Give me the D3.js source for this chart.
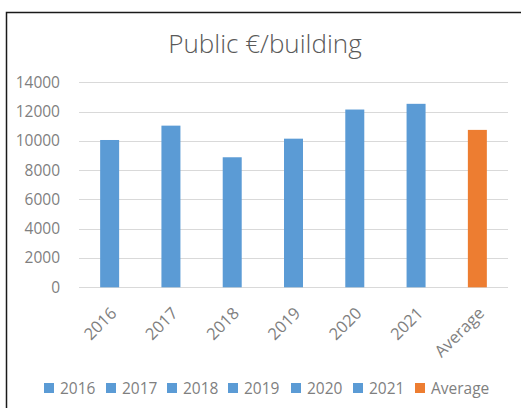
<!DOCTYPE html>
<html>
<head>
<meta charset="utf-8">
<script src="https://cdn.jsdelivr.net/npm/d3@7"></script>
<style>
  body { margin: 0; background: #fff; }
  text { font-family: "Open Sans", "Noto Sans", sans-serif; }
</style>
</head>
<body>
<div id="vis"></div>
<script>
const width = 521;
const height = 408;

const categories = ["2016", "2017", "2018", "2019", "2020", "2021", "Average"];
const values = [10060, 11040, 8880, 10150, 12140, 12530, 10750];
const yTicks = [0, 2000, 4000, 6000, 8000, 10000, 12000, 14000];
const barColors = ["#5B9BD5", "#5B9BD5", "#5B9BD5", "#5B9BD5", "#5B9BD5", "#5B9BD5", "#ED7D31"];

const svg = d3.select("#vis")
  .append("svg")
  .attr("width", width)
  .attr("height", height);

// chart frame, only top and left edges fall inside the picture
svg.append("rect")
  .attr("x", 6.5)
  .attr("y", 12.5)
  .attr("width", width + 10)
  .attr("height", height + 10)
  .attr("fill", "#fff")
  .attr("stroke", "#1a1a1a")
  .attr("stroke-width", 1.5);

svg.append("text")
  .attr("x", 265)
  .attr("y", 53)
  .attr("text-anchor", "middle")
  .attr("font-size", 26)
  .attr("font-weight", 300)
  .attr("fill", "#595959")
  .text("Public €/building");

const x = d3.scaleBand()
  .domain(categories)
  .range([79, 508])
  .paddingInner(0.69)
  .paddingOuter(0.345);

const y = d3.scaleLinear()
  .domain([0, 14000])
  .range([287.3, 82.3]);

// gridlines
svg.append("g")
  .selectAll("line")
  .data(yTicks)
  .join("line")
  .attr("x1", 79)
  .attr("x2", 508)
  .attr("y1", d => Math.round(y(d)) + 0.5)
  .attr("y2", d => Math.round(y(d)) + 0.5)
  .attr("stroke", "#d9d9d9")
  .attr("stroke-width", 1);

// y axis labels
const yAxis = svg.append("g")
  .attr("transform", "translate(60,0)")
  .call(d3.axisLeft(y).tickValues(yTicks).tickSize(0).tickPadding(0).tickFormat(d3.format("d")));
yAxis.select(".domain").remove();
yAxis.selectAll("text")
  .attr("font-size", 15.5)
  .attr("fill", "#7f7f7f")
  .attr("font-family", "\"Open Sans\", sans-serif");

// bars
svg.append("g")
  .selectAll("rect")
  .data(categories)
  .join("rect")
  .attr("x", d => x(d))
  .attr("width", x.bandwidth())
  .attr("y", (d, i) => y(values[i]))
  .attr("height", (d, i) => y(0) - y(values[i]))
  .attr("fill", (d, i) => barColors[i]);

// x axis labels, rotated
const xAxis = svg.append("g")
  .attr("transform", "translate(0,287.3)")
  .call(d3.axisBottom(x).tickSize(0).tickPadding(0));
xAxis.select(".domain").remove();
xAxis.selectAll("text")
  .attr("font-size", 16.5)
  .attr("fill", "#7f7f7f")
  .attr("font-family", "\"Open Sans\", sans-serif")
  .attr("text-anchor", "end")
  .attr("dy", null)
  .attr("y", 0)
  .attr("transform", "translate(8,27) rotate(-45)");

// legend
const legendX = [44, 106, 167, 228, 291, 353, 415];
const legend = svg.append("g");
const item = legend.selectAll("g")
  .data(categories)
  .join("g")
  .attr("transform", (d, i) => `translate(${legendX[i]},388)`);
item.append("rect")
  .attr("x", 0)
  .attr("y", -5)
  .attr("width", 10)
  .attr("height", 10)
  .attr("fill", (d, i) => barColors[i]);
item.append("text")
  .attr("x", 16)
  .attr("y", 6)
  .attr("font-size", 15.5)
  .attr("fill", "#7f7f7f")
  .text(d => d);
</script>
</body>
</html>
